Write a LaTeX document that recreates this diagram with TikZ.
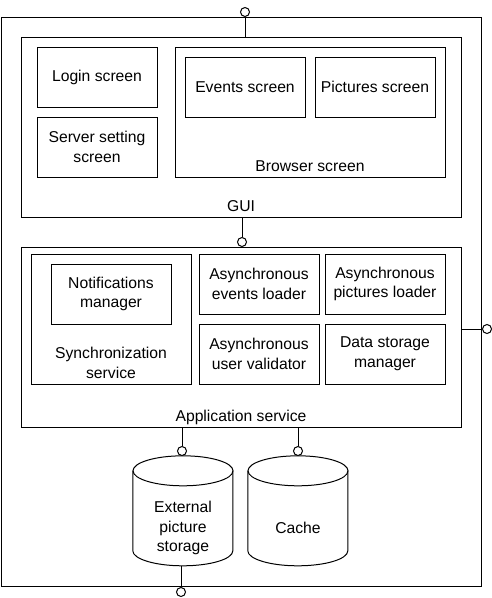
\documentclass[tikz,border=0pt]{standalone}
\usepackage{fontspec}
\setmainfont{Liberation Sans}

\begin{document}
\begin{tikzpicture}[x=1pt,y=-1pt,
		every node/.style={font=\fontsize{15.7}{19.6}\selectfont},
		box/.style={draw,line width=1pt,minimum width=120pt,minimum height=60pt,inner sep=0pt,align=center},
		frame/.style={draw,line width=1pt,inner sep=0pt},
		caption/.style={label={[anchor=south,align=center,inner sep=0pt,text depth=0pt,yshift=6pt]south:#1}},
		store/.style={minimum width=100pt,minimum height=110pt,inner sep=0pt,align=center,text depth=0pt,yshift=0pt},
		port/.style={draw,circle,line width=1pt,minimum size=9pt,inner sep=0pt,fill=white},
		link/.style={line width=1pt},
		drum/.style={line width=1pt,x radius=50,y radius=15}]
			\useasboundingbox (0,0) rectangle (491,598);
			% system boundary
			\node[frame,minimum width=480pt,minimum height=569pt] (sys) at (241,301.5) {};
			% GUI
			\node[frame,minimum width=440pt,minimum height=180pt,caption=GUI] (gui) at (241,127) {};
			\node[box] (login) at (97,77) {Login screen};
			\node[box] (server) at (97,147) {Server setting\\screen};
			\node[frame,minimum width=270pt,minimum height=130pt,caption=Browser screen] (browser) at (310,112) {};
			\node[box] (events) at (245,87) {Events screen};
			\node[box] (pictures) at (375,87) {Pictures screen};
			% application service
			\node[frame,minimum width=440pt,minimum height=180pt,caption=Application service] (app) at (241,337) {};
			\node[frame,minimum width=160pt,minimum height=130pt,caption={Synchronization\\service}] (sync) at (111,319) {};
			\node[box] (notif) at (111,294) {Notifications\\manager};
			\node[box] (evload) at (259,284) {Asynchronous\\events loader};
			\node[box] (picload) at (385,284) {Asynchronous\\pictures loader};
			\node[box] (validator) at (259,354) {Asynchronous\\user validator};
			\node[box] (datastore) at (385,354) {Data storage\\manager};
			% storages
			\node[store,label={[align=center,yshift=-17pt]center:External\\picture\\storage}] (ext) at (183,511) {};
			\node[store,label={[yshift=-17pt]center:Cache}] (cache) at (298,511) {};
			\foreach \s in {ext,cache}{
				\draw[drum] (\s.north) ++(0,15) ellipse[];
				\draw[drum] (\s.north west) ++(0,15) -- ++(0,80) arc[start angle=180,end angle=0] -- ++(0,-80);
			}
			% ports
			\node[port] (ptop) at (245,12) {};
			\node[port] (pgui) at (242,242) {};
			\node[port] (pright) at (487,329) {};
			\node[port] (pext) at (182,451) {};
			\node[port] (pcache) at (298,451) {};
			\node[port] (pbot) at (181,592) {};
			\draw[link] (ptop) -- (ptop |- gui.north);
			\draw[link] (pgui |- gui.south) -- (pgui);
			\draw[link] (app.east |- pright) -- (pright);
			\draw[link] (app.south -| pext) -- (pext);
			\draw[link] (app.south -| pcache) -- (pcache);
			\draw[link] (pbot |- ext.south) -- (pbot);
		\end{tikzpicture}
\end{document}
